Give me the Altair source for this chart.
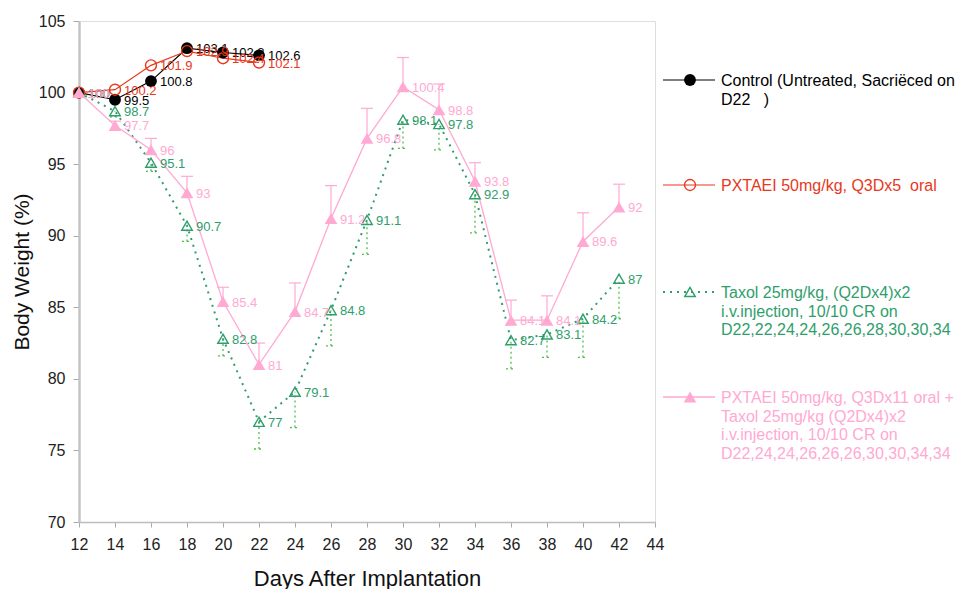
import altair as alt
import pandas as pd

# ---------------- data ----------------
control_days = [12, 14, 16, 18, 20, 22]
control_vals = [100, 99.5, 100.8, 103.1, 102.8, 102.6]

pxt5_days = [12, 14, 16, 18, 20, 22]
pxt5_vals = [100, 100.2, 101.9, 102.9, 102.4, 102.1]

taxol_days = [12, 14, 16, 18, 20, 22, 24, 26, 28, 30, 32, 34, 36, 38, 40, 42]
taxol_vals = [100, 98.7, 95.1, 90.7, 82.8, 77, 79.1, 84.8, 91.1, 98.1, 97.8, 92.9, 82.7, 83.1, 84.2, 87]
taxol_err = [0, 0.4, 0.6, 1.1, 1.2, 1.9, 2.5, 2.5, 2.4, 2.0, 1.8, 2.7, 2.0, 1.6, 2.7, 2.8]

combo_days = [12, 14, 16, 18, 20, 22, 24, 26, 28, 30, 32, 34, 36, 38, 40, 42]
combo_vals = [100, 97.7, 96, 93, 85.4, 81, 84.7, 91.2, 96.8, 100.4, 98.8, 93.8, 84.1, 84.1, 89.6, 92]
combo_err = [0, 0.3, 0.8, 1.15, 1.0, 1.5, 2.0, 2.3, 2.1, 2.05, 1.8, 1.3, 1.4, 1.7, 2.0, 1.6]

x_ticks = list(range(12, 45, 2))
y_ticks = [70, 75, 80, 85, 90, 95, 100, 105]

NB = "\u00a0"
legend_control = ["Control (Untreated, Sacriëced on", "D22" + NB * 3 + ")"]
legend_pxt5 = ["PXTAEI 50mg/kg, Q3Dx5" + NB * 2 + "oral"]
legend_taxol = ["Taxol 25mg/kg, (Q2Dx4)x2", "i.v.injection, 10/10 CR on",
                "D22,22,24,24,26,26,28,30,30,34"]
legend_combo = ["PXTAEI 50mg/kg, Q3Dx11 oral +", "Taxol 25mg/kg (Q2Dx4)x2",
                "i.v.injection, 10/10 CR on", "D22,24,24,26,26,26,30,30,34,34"]

BLACK = "#000000"
RED = "#e8381c"
GREEN = "#2f9e6c"
GREEN_ERR = "#4cc04c"
PINK = "#ffa9d3"
FONT = "Liberation Sans"

W, H = 576, 501

def df(days, vals, err=None):
    d = pd.DataFrame({"day": days, "val": vals})
    d["label"] = [("%g" % v) for v in vals]
    if err is not None:
        d["err"] = err
        d["lo"] = d["val"] - d["err"]
        d["hi"] = d["val"] + d["err"]
    return d

d_ctrl = df(control_days, control_vals)
d_p5 = df(pxt5_days, pxt5_vals)
d_tax = df(taxol_days, taxol_vals, taxol_err)
d_com = df(combo_days, combo_vals, combo_err)

xs = alt.Scale(domain=[12, 44], nice=False)
ys = alt.Scale(domain=[70, 105], nice=False)

X = alt.X("day:Q", scale=xs, axis=alt.Axis(
    values=x_ticks, title="Days After Implantation", grid=False,
    domainColor="#bdbdbd", domainWidth=1.5, tickColor="#aaaaaa", tickSize=5,
    labelFontSize=16, labelColor="#222222", labelPadding=9, labelFont=FONT,
    labelFlush=False, labelOverlap=False, labelBound=False,
    titleFontSize=22, titleFontWeight="normal", titleColor="#111111", titleFont=FONT,
    titleY=63, titleBaseline="alphabetic"))
Y = alt.Y("val:Q", scale=ys, axis=alt.Axis(
    values=y_ticks, title="Body Weight (%)", grid=False,
    domainColor="#c4c4c4", domainWidth=2.5, tickColor="#aaaaaa", tickSize=6,
    labelFontSize=16, labelColor="#222222", labelPadding=8, labelFont=FONT,
    labelFlush=False, labelOverlap=False,
    titleFontSize=21, titleFontWeight="normal", titleColor="#111111", titleFont=FONT,
    titleX=-57, titleBaseline="middle"))


def series_layers(d, color, shape, filled, size, dash=None, lwidth=1.3, label_color=None):
    base = alt.Chart(d)
    lkw = dict(color=color, strokeWidth=lwidth)
    if dash:
        lkw["strokeDash"] = dash
    line = base.mark_line(**lkw).encode(x=X, y=Y)
    pkw = dict(shape=shape, filled=filled, size=size, color=color, opacity=1)
    if not filled:
        pkw["strokeWidth"] = 1.4
    pts = base.mark_point(**pkw).encode(x=X, y=Y)
    txt = base.mark_text(align="left", baseline="middle", dx=9, dy=1, fontSize=13,
                         font=FONT, color=label_color or color).encode(
        x=X, y=Y, text="label:N")
    return line, pts, txt


# error bars
tax_err_rule = alt.Chart(d_tax).mark_rule(color=GREEN_ERR, strokeWidth=1.3, strokeDash=[2, 3]).encode(
    x=X, y=alt.Y("lo:Q", scale=ys), y2="val:Q")
tax_err_cap = alt.Chart(d_tax).mark_rule(color=GREEN_ERR, strokeWidth=1.3, strokeDash=[2, 3],
                                         xOffset=-5, x2Offset=5).encode(
    x=X, x2="day:Q", y=alt.Y("lo:Q", scale=ys))
com_err_rule = alt.Chart(d_com).mark_rule(color=PINK, strokeWidth=1.2).encode(
    x=X, y=alt.Y("val:Q", scale=ys), y2="hi:Q")
com_err_cap = alt.Chart(d_com).mark_rule(color=PINK, strokeWidth=1.2,
                                         xOffset=-6, x2Offset=6).encode(
    x=X, x2="day:Q", y=alt.Y("hi:Q", scale=ys))

c_line, c_pts, c_txt = series_layers(d_ctrl, BLACK, "circle", True, 140, lwidth=1.2)
r_line, r_pts, r_txt = series_layers(d_p5, RED, "circle", False, 120, lwidth=1.2)
g_line, g_pts, g_txt = series_layers(d_tax, GREEN, "triangle-up", False, 110, dash=[2, 5], lwidth=2)
p_line, p_pts, p_txt = series_layers(d_com, PINK, "triangle-up", True, 160, lwidth=1.3)

# ---------------- custom legend ----------------
one = pd.DataFrame({"k": [0]})
LX1, LX2, LSYM, LTX = 584, 636, 611, 642
LH = 18.5

def legend_item(y, color, shape, filled, size, lines, dash=None, lwidth=1.3):
    rkw = dict(color=color, strokeWidth=lwidth)
    if dash:
        rkw["strokeDash"] = dash
    layers = [
        alt.Chart(one).mark_rule(**rkw).encode(
            x=alt.value(LX1), x2=alt.value(LX2), y=alt.value(y)),
    ]
    pkw = dict(shape=shape, filled=filled, size=size, color=color, opacity=1)
    if not filled:
        pkw["strokeWidth"] = 1.4
    layers.append(alt.Chart(one).mark_point(**pkw).encode(x=alt.value(LSYM), y=alt.value(y)))
    for i, t in enumerate(lines):
        layers.append(alt.Chart(one).mark_text(
            align="left", baseline="middle", fontSize=16, font=FONT, color=color, text=t
        ).encode(x=alt.value(LTX), y=alt.value(y + 1 + i * LH)))
    return layers

leg = []
leg += legend_item(59, BLACK, "circle", True, 140, legend_control, lwidth=1.2)
leg += legend_item(164, RED, "circle", False, 120, legend_pxt5, lwidth=1.2)
leg += legend_item(271, GREEN, "triangle-up", False, 110, legend_taxol, dash=[2, 5], lwidth=2)
leg += legend_item(376, PINK, "triangle-up", True, 160, legend_combo, lwidth=1.3)

chart = alt.layer(
    c_line, r_line, tax_err_rule, tax_err_cap, g_line, com_err_rule, com_err_cap, p_line,
    c_pts, r_pts, g_pts, p_pts,
    c_txt, r_txt, g_txt, p_txt,
    *leg
).properties(
    width=W, height=H,
    autosize=alt.AutoSizeParams(type="none"),
    padding={"left": 71, "top": 13, "right": 953 - 71 - W, "bottom": 581 - 13 - H},
).configure_view(strokeWidth=0).configure(font=FONT)

chart.save("out.html", embed_options={"renderer": "svg", "actions": False})
